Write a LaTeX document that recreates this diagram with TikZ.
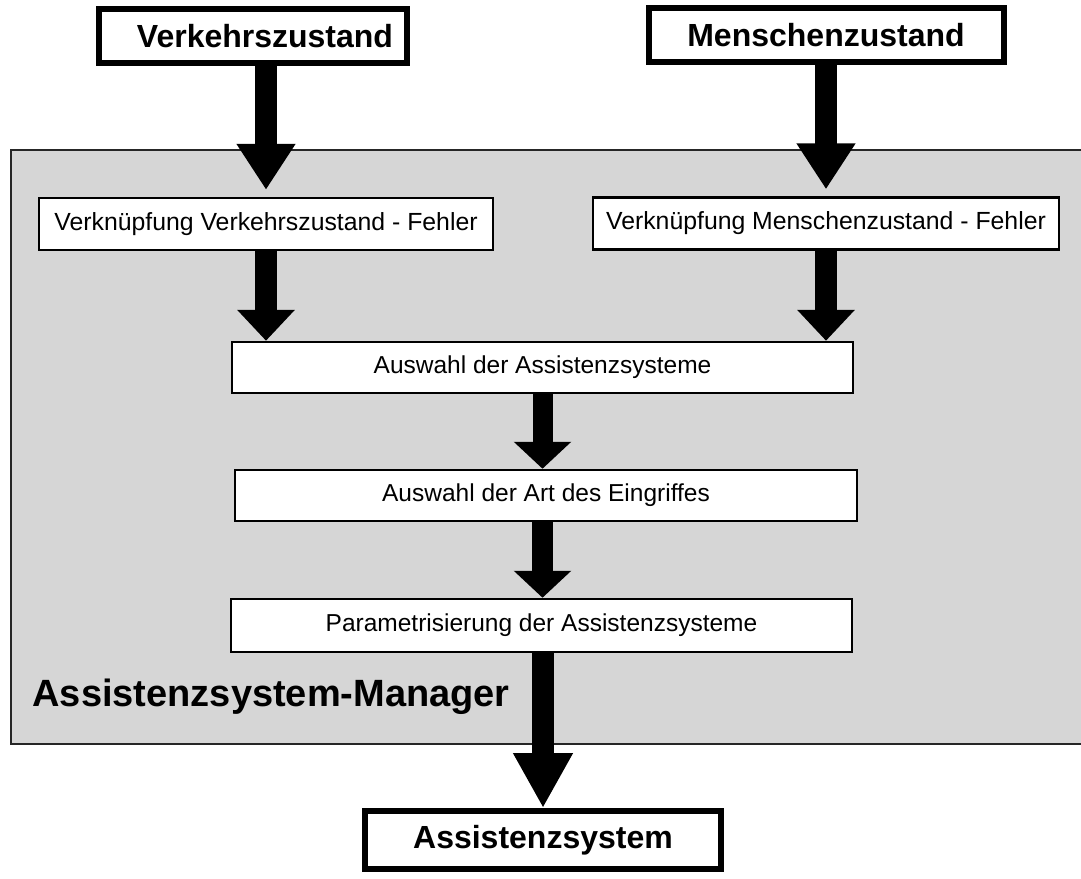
\documentclass[tikz,border=0pt]{standalone}
\usepackage{fontspec}
\setmainfont{Liberation Sans}
\usetikzlibrary{arrows.meta}

\begin{document}
\begin{tikzpicture}[x=1pt, y=-1pt,
    statebox/.style={draw, line width=6pt, fill=white, inner sep=0pt, minimum height=54pt,
        font=\fontsize{32}{38}\selectfont\bfseries},
    stepbox/.style={draw, line width=2.5pt, fill=white, inner sep=0pt, minimum height=52pt,
        font=\fontsize{24.5}{29}\selectfont},
    fat/.style={line width=22pt, -{Triangle[width=56pt, length=#1]}}]
    \useasboundingbox (0,0) rectangle (1081,878);
    % manager panel
    \draw[fill=gray!32, draw=black!85, line width=2pt] (11,150) rectangle (1100,744);
    \node[anchor=base west, font=\fontsize{38}{44}\selectfont\bfseries] (mgr) at (29,706) {Assistenzsystem-Manager};
    % inputs
    \node[statebox, minimum width=308pt] (verkehr) at (253,36) {\hspace*{24pt}Verkehrszustand};
    \node[statebox, minimum width=355pt] (mensch) at (826,35) {Menschenzustand};
    % steps
    \node[stepbox, minimum width=454pt, font=\fontsize{24.8}{30}\selectfont] (vvf) at (266,224) {Verknüpfung Verkehrszustand - Fehler};
    \node[stepbox, minimum width=466pt, font=\fontsize{24.8}{30}\selectfont] (vmf) at (826,223.5) {Verknüpfung Menschenzustand - Fehler};
    \node[stepbox, minimum width=621pt, minimum height=51pt] (ausw) at (542.5,367.5) {Auswahl der Assistenzsysteme};
    \node[stepbox, minimum width=622pt, minimum height=51pt] (art) at (546,495.5) {Auswahl der Art des Eingriffes};
    \node[stepbox, minimum width=621pt, minimum height=53pt] (param) at (541.5,625.5) {Parametrisierung der Assistenzsysteme};
    % output
    \node[statebox, minimum width=356pt, minimum height=58pt] (assist) at (543,840) {Assistenzsystem};
    % arrows
    \draw[fat=46pt, shorten >=7pt] (vvf.north |- verkehr.south) -- (vvf.north);
    \draw[fat=46pt, shorten >=7pt] (mensch.south) -- (mensch.south |- vmf.north);
    \draw[fat=31pt] (vvf.south) -- (vvf.south |- ausw.north);
    \draw[fat=31pt] (vmf.south) -- (vmf.south |- ausw.north);
    \draw[fat=27pt, line width=20pt] (ausw.south) -- (ausw.south |- art.north);
    \draw[fat=27pt, line width=21pt] (ausw.south |- art.south) -- (ausw.south |- param.north);
    \draw[fat=55pt] (assist.north |- param.south) -- (assist.north);
\end{tikzpicture}
\end{document}
